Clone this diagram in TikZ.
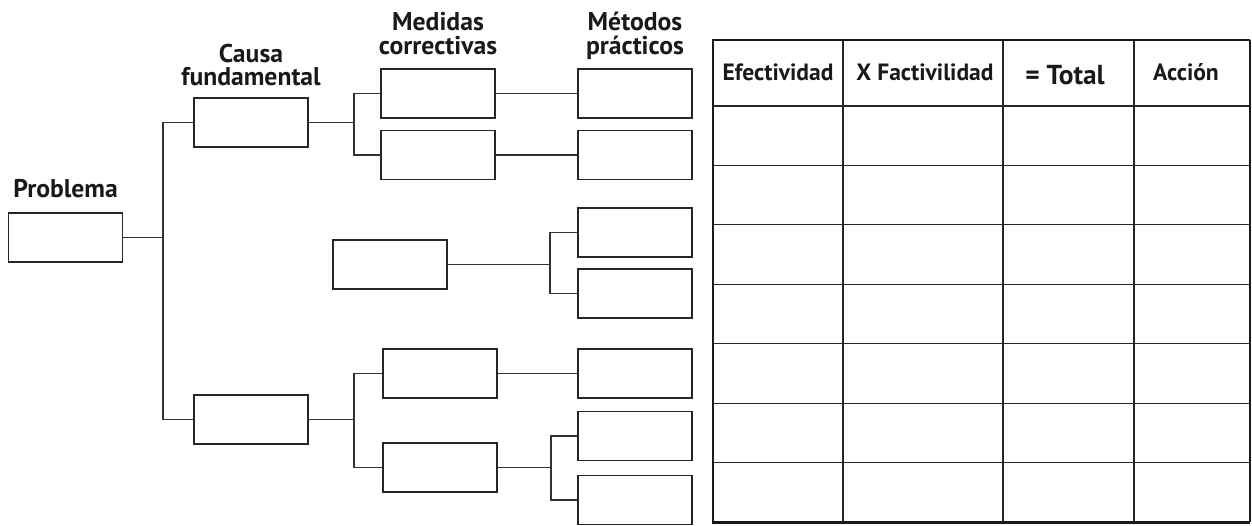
\documentclass[tikz,border=0pt]{standalone}
\usepackage{fontspec}
\setmainfont{PT Sans}
\usetikzlibrary{positioning}
\tikzset{
  box/.style={rectangle, draw=black!85, line width=0.7pt, minimum width=2.28cm, minimum height=0.98cm, inner sep=0pt},
  lbl/.style={align=center, font=\fontsize{14.6}{13.2}\selectfont\bfseries, text=black!90, text depth=0pt, inner sep=1pt},
  hdr/.style={font=\fontsize{13.4}{14}\selectfont\bfseries, text=black!90, inner sep=0pt},
  link/.style={draw=black!80, line width=0.7pt},
  rule/.style={draw=black!85, line width=0.7pt},
}

\begin{document}
\begin{tikzpicture}[x=0.02cm, y=-0.02cm, node distance=2mm]
\useasboundingbox (0,0) rectangle (1252,525);
% problem and root causes
\node[box] (pb) at (65.5,237.5) {};
\node[box] (cf1) at (251,122.5) {};
\node[box] (cf2) at (251,419.5) {};
% corrective measures
\node[box] (mc1) at (438,93.5) {};
\node[box] (mc2) at (438,155) {};
\node[box] (mc3) at (390,264.5) {};
\node[box] (mc4) at (440,373.5) {};
\node[box] (mc5) at (440,467.5) {};
% practical methods
\node[box] (mp1) at (635,93.5) {};
\node[box] (mp2) at (635,155) {};
\node[box] (mp3) at (635,232.5) {};
\node[box] (mp4) at (635,293.5) {};
\node[box] (mp5) at (635,373.5) {};
\node[box] (mp6) at (635,436) {};
\node[box] (mp7) at (635,500) {};
% column labels
\node[lbl, above=2.65mm of pb] (lpb) {Problema};
\node[lbl, above=1.9mm of cf1] (lcf) {Causa\\fundamental};
\node[lbl, above=2.45mm of mc1] (lmc) {Medidas\\correctivas};
\node[lbl, above=2.45mm of mp1] (lmp) {Métodos\\prácticos};
% branch points
\coordinate (j0) at (163,237.5);
\coordinate (j1) at (354,122.5);
\coordinate (j2) at (550,264.5);
\coordinate (j3) at (354,419.5);
\coordinate (j4) at (551,467.5);
\draw[link] (pb.east) -- (j0);
\draw[link] (cf1.west) -| (j0) |- (cf2.west);
\draw[link] (cf1.east) -- (j1);
\draw[link] (mc1.west) -| (j1) |- (mc2.west);
\draw[link] (cf2.east) -- (j3);
\draw[link] (mc4.west) -| (j3) |- (mc5.west);
\draw[link] (mc1) -- (mp1);
\draw[link] (mc2) -- (mp2);
\draw[link] (mc4) -- (mp5);
\draw[link] (mc3.east) -- (j2);
\draw[link] (mp3.west) -| (j2) |- (mp4.west);
\draw[link] (mc5.east) -- (j4);
\draw[link] (mp6.west) -| (j4) |- (mp7.west);
% rating table
\draw[rule] (713,106) -- (1250,106);
\foreach \i in {1,...,6}
  \draw[rule] (713,{106+59.43*\i}) -- (1250,{106+59.43*\i});
\foreach \x in {843,1003,1134}
  \draw[rule] (\x,40) -- (\x,522);
\draw[draw=black!90, line width=1.7pt] (1250,40) -- (713,40) -- (713,522) -- (1250,522);
\draw[draw=black!90, line width=1.1pt] (1250,40) -- (1250,522);
\node[hdr] (h1) at (778,72) {Efectividad};
\node[hdr] (h2) at (925,72) {X Factivilidad};
\node[hdr, font=\fontsize{15.6}{16}\selectfont\bfseries] (h3) at (1065,75) {= Total};
\node[hdr] (h4) at (1186,72) {Acción};
\end{tikzpicture}
\end{document}
